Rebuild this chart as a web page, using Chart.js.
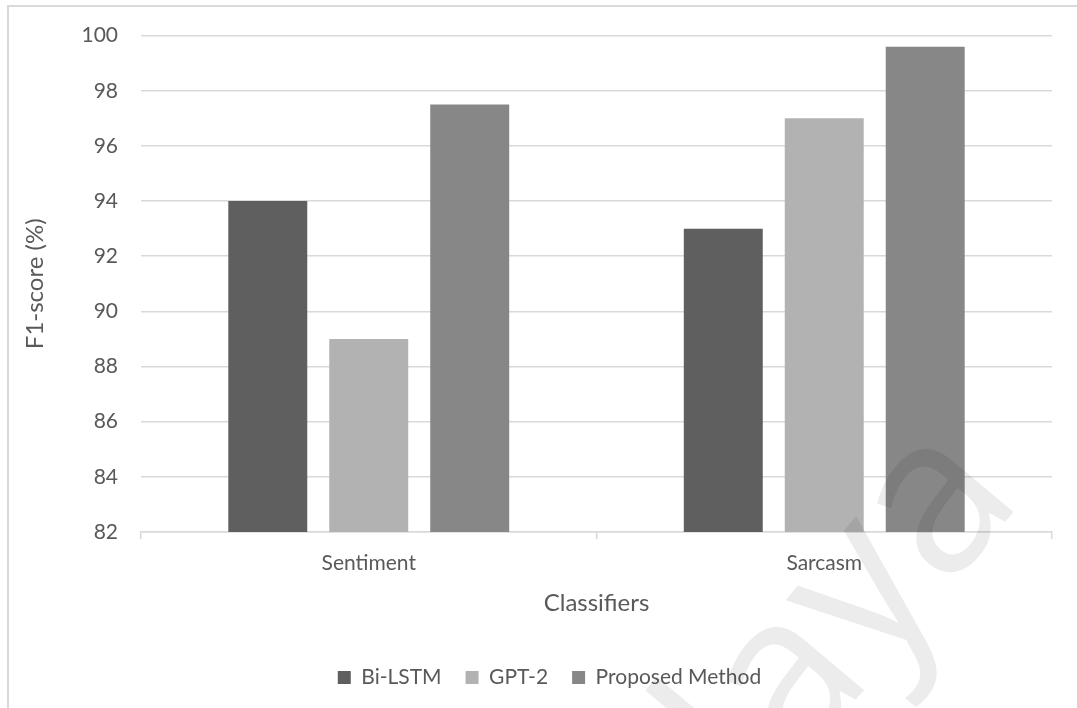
<!DOCTYPE html>
<html>
<head>
<meta charset="utf-8">
<script src="https://cdn.jsdelivr.net/npm/chart.js@4.4.1/dist/chart.umd.min.js"></script>
<style>
  html, body { margin: 0; padding: 0; background: #ffffff; overflow: hidden; }
  body { width: 1077px; height: 708px; position: relative; }
  #frame {
    position: absolute; left: 7px; top: 5px; width: 1200px; height: 800px;
    border-left: 2px solid #d9d9d9; border-top: 2px solid #d9d9d9;
    box-sizing: border-box;
  }
  #chart { position: absolute; left: 0; top: 0; }
</style>
</head>
<body>
<div id="frame"></div>
<canvas id="chart" width="1090" height="708"></canvas>
<script>
// F1-scores of the three classifiers on the two tasks
const categories = ['Sentiment', 'Sarcasm'];
const seriesNames = ['Bi-LSTM', 'GPT-2', 'Proposed Method'];
const biLstm = [94, 93];
const gpt2 = [89, 97];
const proposed = [97.5, 99.6];
const yTicks = [82, 84, 86, 88, 90, 92, 94, 96, 98, 100];

const seriesColors = ['#5f5f5f', '#b2b2b2', '#878787'];
const textColor = '#595959';
const lineColor = '#d9d9d9';
const fontFamily = 'Lato, "Open Sans", sans-serif';

// faint diagonal watermark drawn over the plot
const watermark = {
  id: 'watermark',
  afterDraw(chart) {
    const ctx = chart.ctx;
    ctx.save();
    ctx.translate(1025, 498);
    ctx.rotate(-50 * Math.PI / 180);
    ctx.font = '220px "Open Sans", sans-serif';
    ctx.fillStyle = 'rgba(0,0,0,0.075)';
    ctx.textAlign = 'right';
    ctx.textBaseline = 'alphabetic';
    ctx.fillText('Malaya', 0, 0);
    ctx.restore();
  }
};

new Chart(document.getElementById('chart'), {
  type: 'bar',
  data: {
    labels: categories,
    datasets: [
      { label: seriesNames[0], data: biLstm, backgroundColor: seriesColors[0] },
      { label: seriesNames[1], data: gpt2, backgroundColor: seriesColors[1] },
      { label: seriesNames[2], data: proposed, backgroundColor: seriesColors[2] }
    ]
  },
  options: {
    responsive: false,
    animation: false,
    events: [],
    categoryPercentage: 0.665,
    barPercentage: 0.782,
    layout: { padding: { left: 9, right: 0, top: 35, bottom: 10 } },
    plugins: {
      tooltip: { enabled: false },
      legend: {
        position: 'bottom',
        labels: {
          color: textColor,
          font: { family: fontFamily, size: 21 },
          boxWidth: 13,
          boxHeight: 13,
          padding: 24
        }
      }
    },
    scales: {
      x: {
        grid: { drawOnChartArea: false, drawTicks: true, tickLength: 7, color: lineColor, tickColor: lineColor, lineWidth: 1.5 },
        border: { display: true, color: lineColor, width: 1.5 },
        ticks: { color: textColor, font: { family: fontFamily, size: 21 }, padding: 12 },
        title: {
          display: true, text: 'Classifiers', color: textColor,
          font: { family: fontFamily, size: 24 }, padding: { top: 0, bottom: 25 }
        },
        afterFit(scale) { scale.height = 111; }
      },
      y: {
        min: 82, max: 100,
        afterBuildTicks(scale) { scale.ticks = yTicks.map(v => ({ value: v })); },
        grid: { color: lineColor, lineWidth: 1.5, drawTicks: false },
        border: { display: false },
        ticks: { color: textColor, font: { family: fontFamily, size: 21 }, padding: 23 },
        title: {
          display: true, text: 'F1-score (%)', color: textColor,
          font: { family: fontFamily, size: 24 }, padding: { top: 12, bottom: 0 }
        },
        afterFit(scale) { scale.width = 132; }
      },
      // empty right-hand margin so the legend centres within the frame
      gutter: {
        type: 'linear', position: 'right', display: true,
        grid: { display: false }, border: { display: false }, ticks: { display: false },
        afterFit(scale) { scale.width = 38; }
      }
    }
  },
  plugins: [watermark]
});
</script>
</body>
</html>
